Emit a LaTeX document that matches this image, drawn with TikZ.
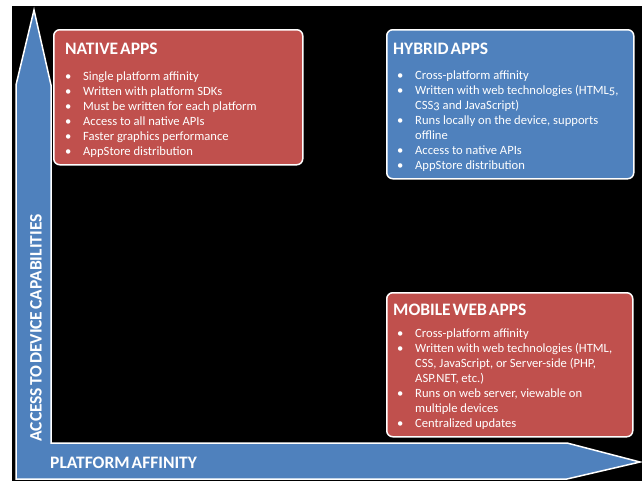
\documentclass[tikz,border=0pt]{standalone}
\usepackage{fontspec}
\setmainfont{Carlito}[Numbers=OldStyle]
\newfontfamily\hdfont{Carlito}[WordSpace=0.5]
\definecolor{ared}{HTML}{C0504D}
\definecolor{ablue}{HTML}{4F81BD}
\newcommand\bul{\makebox[18pt][l]{\textbullet}}
\newcommand\cnt{\hspace*{18pt}}
\tikzset{
  box/.style={draw=white, line width=1.5pt, rounded corners=6pt, inner sep=0pt, anchor=north west},
  ttl/.style={text=white, font=\hdfont\bfseries\fontsize{17.5}{20}\selectfont, inner sep=0pt, anchor=base west},
  lst/.style={text=white, font=\fontsize{12.6}{15}\selectfont, inner sep=0pt, anchor=base west},
  axlbl/.style={text=white, font=\hdfont\bfseries\fontsize{17.5}{20}\selectfont, inner sep=0pt}
}
\begin{document}
\begin{tikzpicture}[x=1pt,y=-1pt]
\useasboundingbox (0,0) rectangle (642,482);
\fill[black] (12,6) rectangle (642,481);
% axes shape
\draw[white, line width=1.5pt, fill=ablue, line join=miter]
  (16,479) -- (16,85) -- (34,10) -- (51,85) -- (51,443) -- (567,443) -- (640,462) -- (567,479) -- cycle;
\node[axlbl, rotate=90] (yax) at (36,328) {ACCESS TO DEVICE CAPABILITIES};
\node[axlbl, anchor=west] (xax) at (50,463) {PLATFORM AFFINITY};
% boxes
\node[box, fill=ared, minimum width=249pt, minimum height=135pt] (native) at (53,29) {};
\node[box, fill=ablue, minimum width=247pt, minimum height=149pt] (hybrid) at (386,29) {};
\node[box, fill=ared, minimum width=246pt, minimum height=144pt] (mobile) at (386,292) {};
% native
\node[ttl] (nativeT) at (65,54) {NATIVE APPS};
\node[lst] (nativeL) at (65,80) {\parbox[t]{230pt}{\raggedright
\bul Single platform affinity\\
\bul Written with platform SDKs\\
\bul Must be written for each platform\\
\bul Access to all native APIs\\
\bul Faster graphics performance\\
\bul AppStore distribution}};
% hybrid
\node[ttl] (hybridT) at (393,54) {HYBRID APPS};
\node[lst] (hybridL) at (397,79.5) {\parbox[t]{232pt}{\raggedright
\bul Cross-platform affinity\\
\bul Written with web technologies (HTML5,\\
\cnt CSS3 and JavaScript)\\
\bul Runs locally on the device, supports\\
\cnt offline\\
\bul Access to native APIs\\
\bul AppStore distribution}};
% mobile
\node[ttl] (mobileT) at (393,315) {MOBILE WEB APPS};
\node[lst] (mobileL) at (397,337) {\parbox[t]{232pt}{\raggedright
\bul Cross-platform affinity\\
\bul Written with web technologies (HTML,\\
\cnt CSS, JavaScript, or Server-side (PHP,\\
\cnt ASP.NET, etc.)\\
\bul Runs on web server, viewable on\\
\cnt multiple devices\\
\bul Centralized updates}};
\end{tikzpicture}
\end{document}
